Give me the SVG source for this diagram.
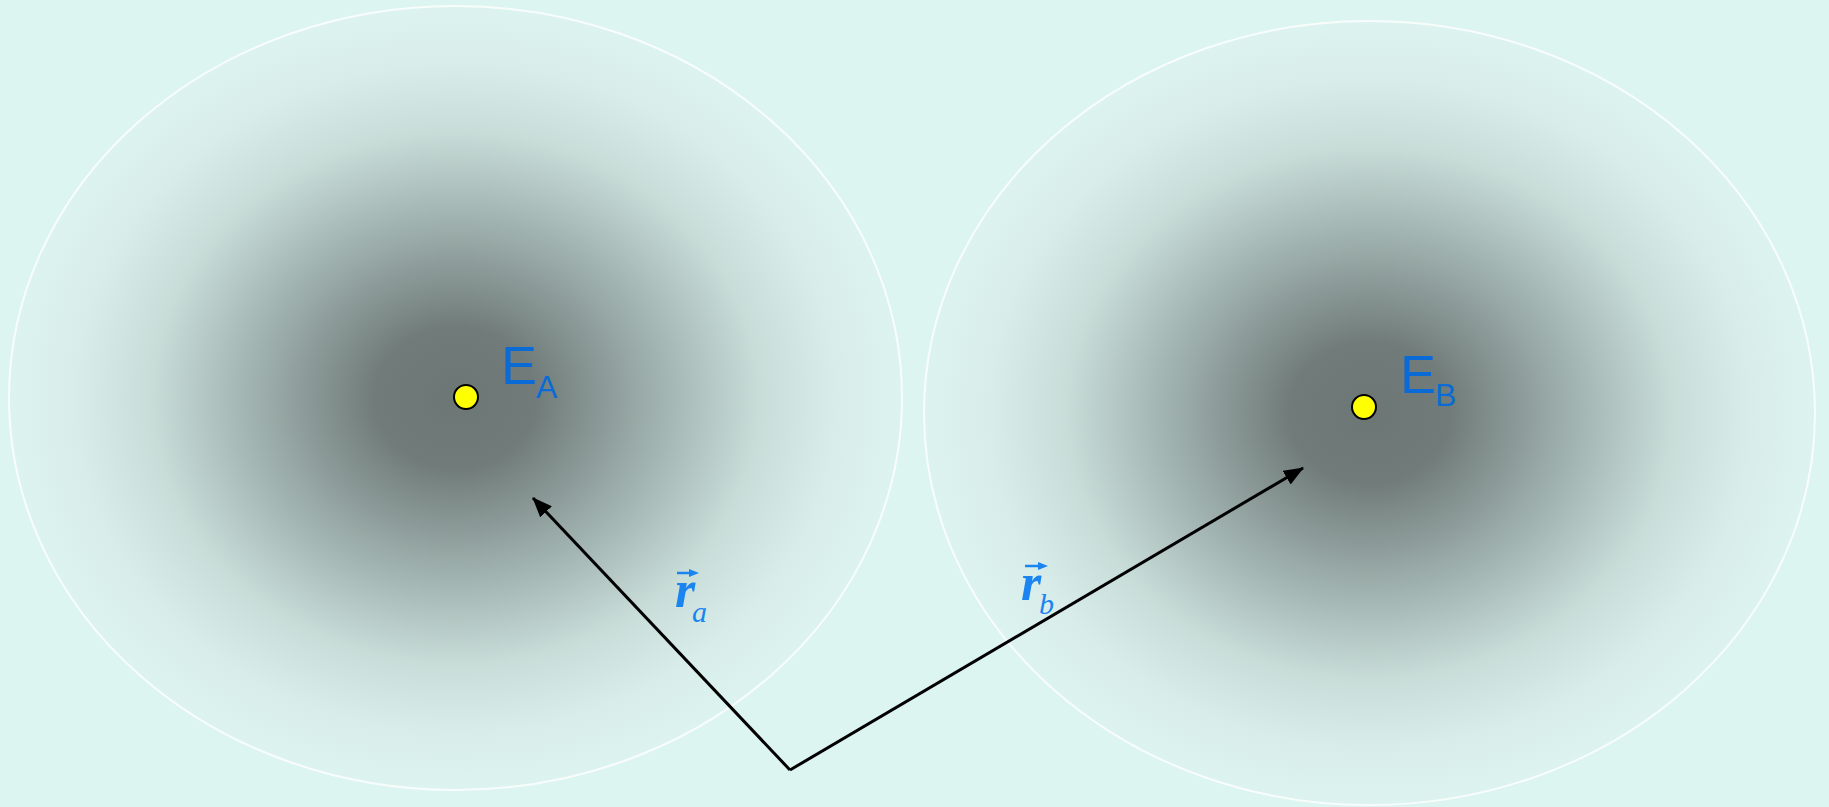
<svg xmlns="http://www.w3.org/2000/svg" width="1829" height="807" viewBox="0 0 1829 807">
<defs>
<radialGradient id="cloud" cx="0.5" cy="0.5" r="0.5">
<stop offset="0" stop-color="#6c7775"/>
<stop offset="0.18" stop-color="#717c7a"/>
<stop offset="0.45" stop-color="#9fb1ae"/>
<stop offset="0.68" stop-color="#c8dcd8"/>
<stop offset="0.85" stop-color="#d8ede9"/>
<stop offset="1" stop-color="#dcf3ef"/>
</radialGradient>
<marker id="ah" viewBox="0 0 20 16" refX="19" refY="8" markerWidth="20" markerHeight="16" markerUnits="userSpaceOnUse" orient="auto">
<path d="M0,0 L20,8 L0,16 Z" fill="#000"/>
</marker>
<style>
.orb{fill:url(#cloud);stroke:#ffffff;stroke-width:2;stroke-opacity:0.8}
.dot{fill:#ffff00;stroke:#000;stroke-width:2}
.E{fill:#0a6ad6}
.r{fill:#1a85f0;font-style:italic}
.vec{stroke:#000;stroke-width:3;fill:none}
</style>
</defs>
<rect width="1829" height="807" fill="#dcf5f0"/>
<g id="orbitalA">
<ellipse class="orb" cx="455.5" cy="398" rx="446.5" ry="392"/>
</g>
<g id="orbitalB">
<ellipse class="orb" cx="1369.5" cy="413" rx="445.5" ry="392"/>
</g>
<g id="nucleusA">
<circle class="dot" cx="466" cy="397" r="12"/>
<text class="E" x="501" y="384" font-size="54" font-family="Liberation Sans, Arial, sans-serif">E</text>
<text class="E" x="536" y="398" font-size="32" font-family="Liberation Sans, Arial, sans-serif">A</text>
</g>
<g id="nucleusB">
<circle class="dot" cx="1364" cy="407" r="12"/>
<text class="E" x="1400" y="393" font-size="54" font-family="Liberation Sans, Arial, sans-serif">E</text>
<text class="E" x="1435" y="406" font-size="32" font-family="Liberation Sans, Arial, sans-serif">B</text>
</g>
<g id="connectors">
<line class="vec" x1="790" y1="770" x2="533" y2="498" marker-end="url(#ah)"/>
<line class="vec" x1="790" y1="770" x2="1303" y2="468" marker-end="url(#ah)"/>
</g>
<g id="labelRa">
<text class="r" x="675" y="607" font-size="52" font-weight="bold" font-family="Liberation Serif, Times New Roman, serif">r</text>
<text class="r" x="692" y="622" font-size="30" font-family="Liberation Serif, Times New Roman, serif">a</text>
<line x1="677" y1="573" x2="692" y2="573" stroke="#1a85f0" stroke-width="2.5"/>
<path d="M689,569 L699,573 L689,577 Z" fill="#1a85f0"/>
</g>
<g id="labelRb">
<text class="r" x="1021" y="600" font-size="52" font-weight="bold" font-family="Liberation Serif, Times New Roman, serif">r</text>
<text class="r" x="1039" y="614" font-size="30" font-family="Liberation Serif, Times New Roman, serif">b</text>
<line x1="1025" y1="566" x2="1041" y2="566" stroke="#1a85f0" stroke-width="2.5"/>
<path d="M1038,562 L1048,566 L1038,570 Z" fill="#1a85f0"/>
</g>
</svg>
